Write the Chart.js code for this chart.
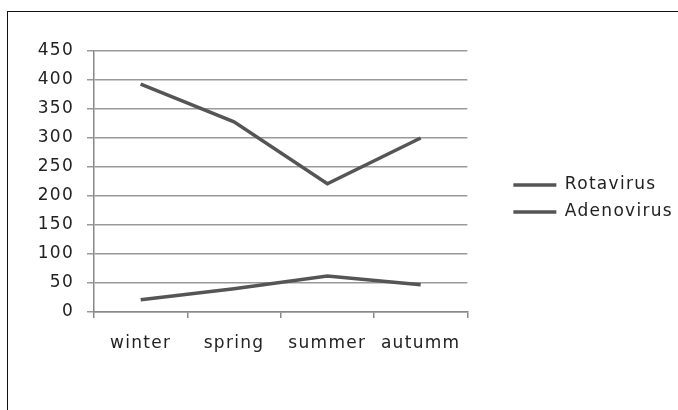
<!DOCTYPE html>
<html>
<head>
<meta charset="utf-8">
<script src="https://cdn.jsdelivr.net/npm/chart.js@4"></script>
<style>
  html, body { margin: 0; padding: 0; background: #fff; overflow: hidden; }
  #frame { position: absolute; left: 7px; top: 11px; width: 700px; height: 420px; border: 1.5px solid #111; }
  #wrap { position: absolute; left: 0; top: 0; width: 692px; height: 410px; }
</style>
</head>
<body>
<div id="frame"></div>
<div id="wrap"><canvas id="myChart"></canvas></div>
<script>
const seasons = ['winter', 'spring', 'summer', 'autumm'];
const rotavirus = [393, 328, 221, 300];
const adenovirus = [21, 40, 62, 47];
const yTicks = [0, 50, 100, 150, 200, 250, 300, 350, 400, 450];

// text in the original looks wide, add a little letter spacing
const spacing = {
    id: 'spacing',
    beforeUpdate: (chart) => { chart.ctx.letterSpacing = '1.3px'; },
    beforeDraw: (chart) => { chart.ctx.letterSpacing = '1.3px'; },
    // x labels are clipped to the axis box, let it reach the bottom
    afterLayout: (chart) => { chart.scales.x.bottom = chart.height; }
};

document.addEventListener('DOMContentLoaded', () => {
    const ctx = document.getElementById('myChart').getContext('2d');

    const myChart = new Chart(ctx, {
        type: 'line',
        data: {
            labels: seasons,
            datasets: [{
                label: 'Rotavirus',
                data: rotavirus,
                borderColor: '#555555',
                backgroundColor: '#555555',
                borderWidth: 3.5,
                pointRadius: 0,
                tension: 0
            }, {
                label: 'Adenovirus',
                data: adenovirus,
                borderColor: '#555555',
                backgroundColor: '#555555',
                borderWidth: 3.5,
                pointRadius: 0,
                tension: 0
            }]
        },
        options: {
            responsive: true,
            maintainAspectRatio: false,
            animation: false,
            layout: { padding: { left: 34, top: 51, bottom: 64, right: 9 } },
            font: { family: 'DejaVu Sans', size: 17 },
            color: '#222',
            plugins: {
                tooltip: { enabled: false },
                legend: {
                    position: 'right',
                    maxWidth: 300,
                    labels: {
                        usePointStyle: true,
                        pointStyle: 'line',
                        pointStyleWidth: 43,
                        padding: 10,
                        color: '#222',
                        font: { family: 'DejaVu Sans', size: 17 }
                    }
                }
            },
            scales: {
                x: {
                    offset: true,
                    afterFit: (s) => { s.height = 34; },
                    grid: {
                        offset: true,
                        drawOnChartArea: false,
                        drawTicks: true,
                        tickLength: 6,
                        color: '#888',
                        lineWidth: 1.5
                    },
                    border: { color: '#888', width: 1.5 },
                    ticks: { padding: 15, color: '#222', font: { family: 'DejaVu Sans', size: 17 } }
                },
                y: {
                    min: 0,
                    max: 450,
                    afterFit: (s) => { s.width = 60; },
                    afterBuildTicks: (s) => { s.ticks = yTicks.map(v => ({ value: v })); },
                    grid: { color: '#999', lineWidth: 1.5, tickLength: 7 },
                    border: { color: '#888', width: 1.5 },
                    ticks: { padding: 13, color: '#222', font: { family: 'DejaVu Sans', size: 17 } }
                },
                // empty axis, only keeps the gap between plot and legend
                gap: {
                    type: 'linear',
                    position: 'right',
                    afterFit: (s) => { s.width = 36; },
                    grid: { display: false },
                    border: { display: false },
                    ticks: { display: false }
                }
            }
        },
        plugins: [spacing]
    });
});
</script>
</body>
</html>
